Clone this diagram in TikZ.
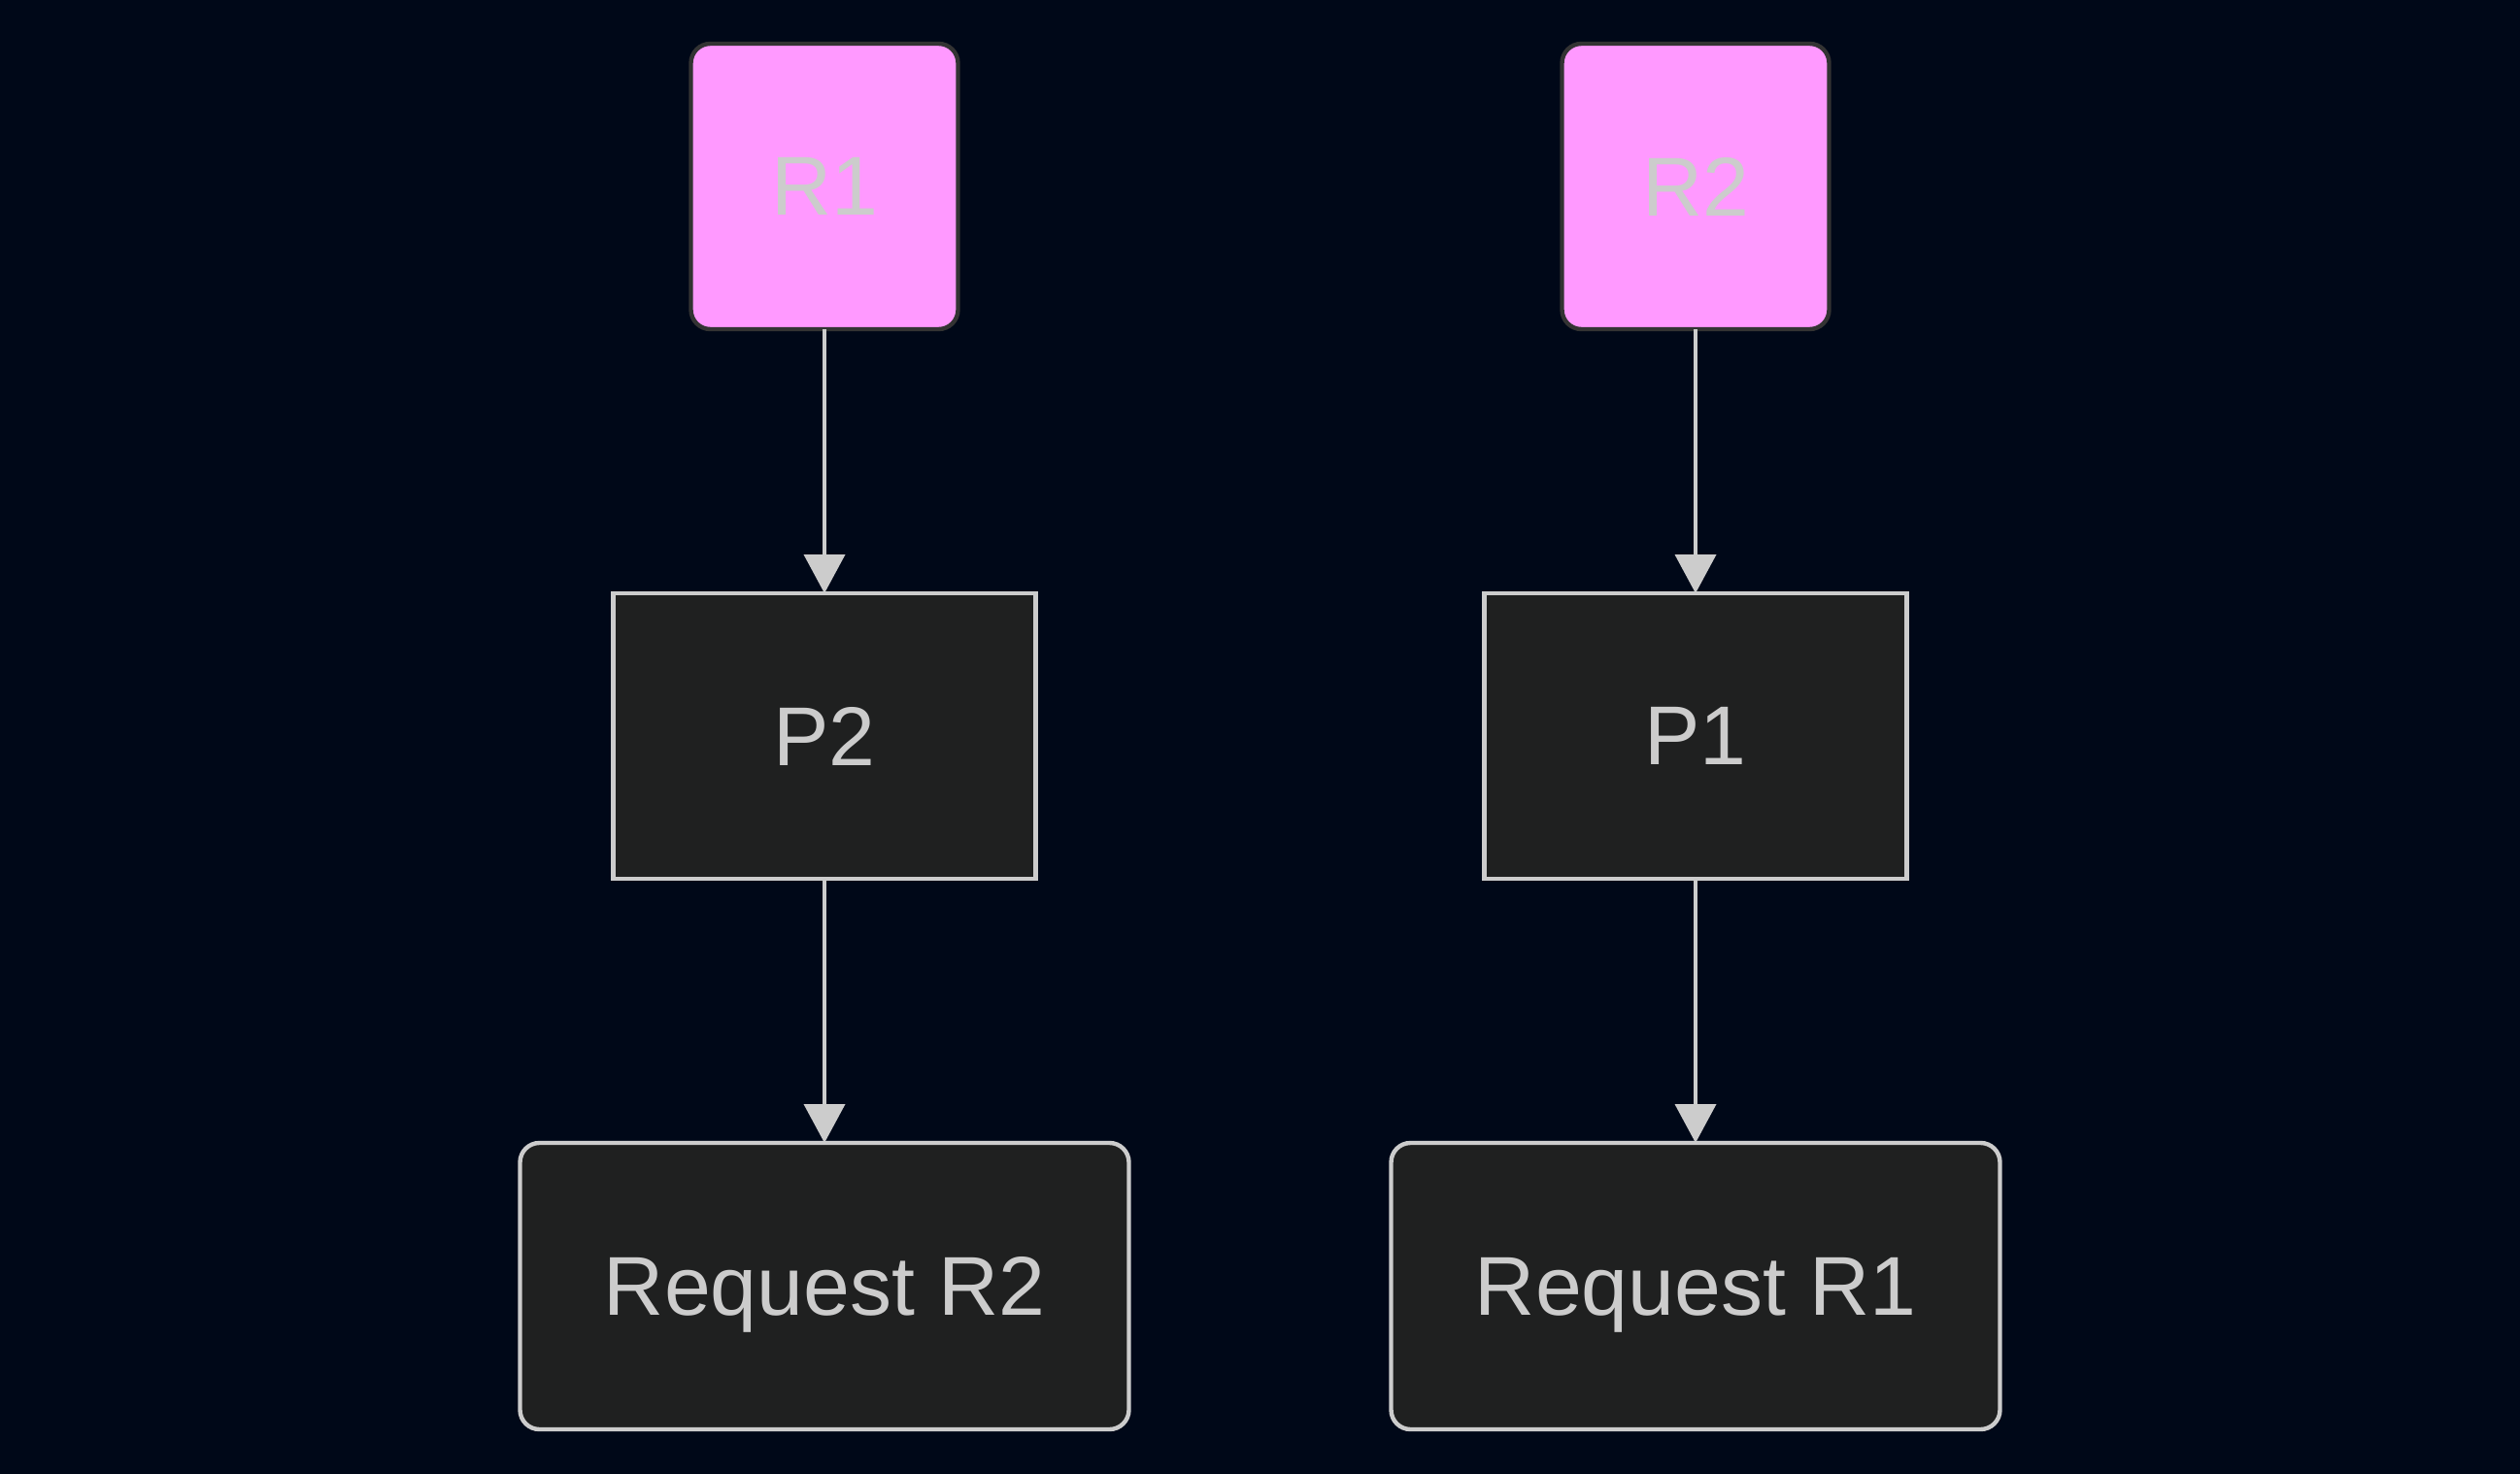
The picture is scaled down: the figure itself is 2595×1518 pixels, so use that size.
\documentclass[tikz,border=0pt]{standalone}
\usepackage{fontspec}
\setmainfont{Liberation Sans}
\usepackage{xcolor}
\usetikzlibrary{arrows.meta,positioning}
\definecolor{bgnavy}{HTML}{000818}
\definecolor{respink}{HTML}{FF99FF}
\definecolor{resedge}{HTML}{333333}
\definecolor{procfill}{HTML}{1F2020}
\definecolor{lightline}{HTML}{CCCCCC}

\begin{document}
\begin{tikzpicture}
[x=0.5pt,y=-0.5pt,font=\fontsize{43pt}{50pt}\selectfont,
      node distance=136pt,
      res/.style={draw=resedge,fill=respink,line width=2.2pt,rounded corners=10pt,
      minimum width=137.5pt,minimum height=147pt,text=lightline,outer sep=0pt},
      proc/.style={draw=lightline,fill=procfill,line width=2.2pt,
      minimum width=217.5pt,minimum height=147pt,text=lightline,outer sep=0pt},
      req/.style={draw=lightline,fill=procfill,line width=2.2pt,rounded corners=10pt,
      minimum width=313.5pt,minimum height=147.5pt,text=lightline,outer sep=0pt,
      text depth=0pt},
      link/.style={draw=lightline,line width=2pt,
      -{Triangle[length=20pt,width=21pt,fill=lightline]}}]
 \fill[bgnavy] (0,0) rectangle (2595,1518);
 \useasboundingbox (0,0) rectangle (2595,1518);
 % left column
 \node[res] (r1) at (849,192) {R1};
 \node[proc,below=of r1] (p2) {P2};
 \node[req,below=of p2] (reqr2) {Request R2};
 % right column
 \node[res] (r2) at (1746,192) {R2};
 \node[proc,below=of r2] (p1) {P1};
 \node[req,below=of p1] (reqr1) {Request R1};
 \draw[link] (r1) -- (p2);
 \draw[link] (p2) -- (reqr2);
 \draw[link] (r2) -- (p1);
 \draw[link] (p1) -- (reqr1);
\end{tikzpicture}
\end{document}
